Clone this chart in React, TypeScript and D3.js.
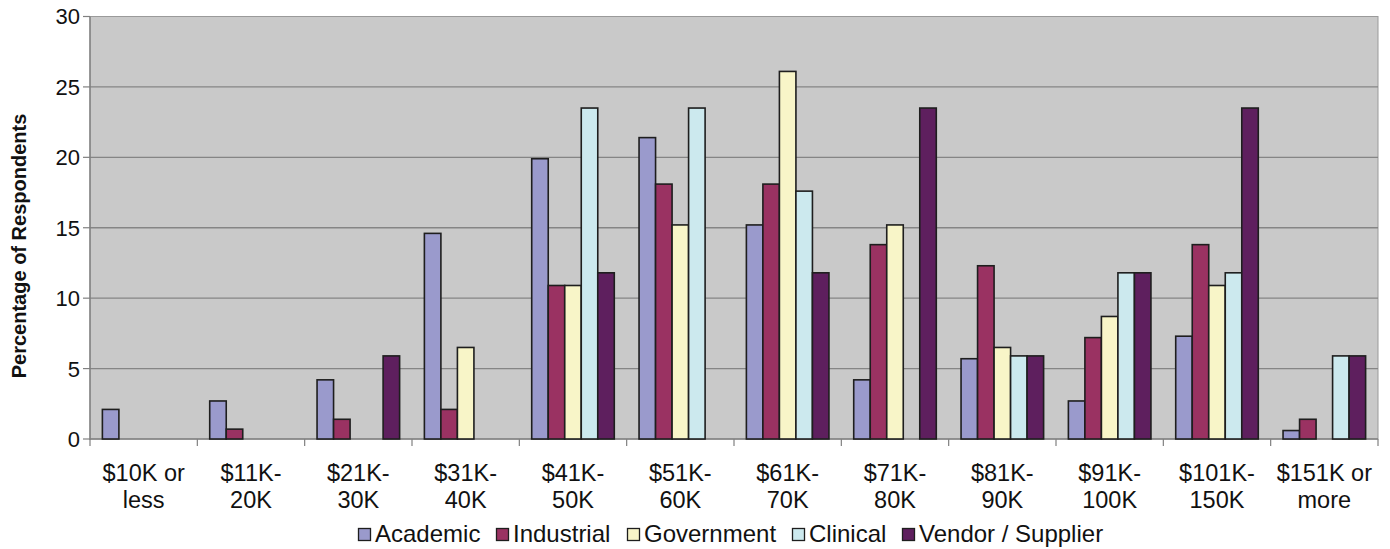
import * as d3 from "d3";

const categories = [
  ["$10K or", "less"],
  ["$11K-", "20K"],
  ["$21K-", "30K"],
  ["$31K-", "40K"],
  ["$41K-", "50K"],
  ["$51K-", "60K"],
  ["$61K-", "70K"],
  ["$71K-", "80K"],
  ["$81K-", "90K"],
  ["$91K-", "100K"],
  ["$101K-", "150K"],
  ["$151K or", "more"],
];

const seriesNames = ["Academic", "Industrial", "Government", "Clinical", "Vendor / Supplier"];

const academic = [2.1, 2.7, 4.2, 14.6, 19.9, 21.4, 15.2, 4.2, 5.7, 2.7, 7.3, 0.6];
const industrial = [0, 0.7, 1.4, 2.1, 10.9, 18.1, 18.1, 13.8, 12.3, 7.2, 13.8, 1.4];
const government = [0, 0, 0, 6.5, 10.9, 15.2, 26.1, 15.2, 6.5, 8.7, 10.9, 0];
const clinical = [0, 0, 0, 0, 23.5, 23.5, 17.6, 0, 5.9, 11.8, 11.8, 5.9];
const vendor = [0, 0, 5.9, 0, 11.8, 0, 11.8, 23.5, 5.9, 11.8, 23.5, 5.9];

const yTicks = [0, 5, 10, 15, 20, 25, 30];

const seriesValues = [academic, industrial, government, clinical, vendor];
const colors = ["#9a9acc", "#9a3262", "#f8f5c8", "#cce9ee", "#5e1f5e"];

const width = 1390;
const height = 549;
const plot = { left: 90, right: 1378, top: 16.5, bottom: 439 };
const font = "'Liberation Sans', Arial, sans-serif";

export default function App() {
  const catIdx = categories.map((_, i) => String(i));
  const x0 = d3.scaleBand().domain(catIdx).range([plot.left, plot.right]).padding(0);
  const x1 = d3
    .scaleBand()
    .domain(seriesNames)
    .range([0, x0.bandwidth()])
    .paddingInner(0)
    .paddingOuter(0.75);
  const y = d3.scaleLinear().domain([0, 30]).range([plot.bottom, plot.top]);

  const bars = seriesNames.flatMap((name, s) =>
    seriesValues[s].map((v, i) => ({ name, s, i, v })).filter((d) => d.v > 0),
  );

  // legend: square, then label; x positions follow the picture
  const legendX = [358, 496, 627, 792, 902];

  return (
    <svg
      width={width}
      height={height}
      style={{ position: "absolute", left: 0, top: 0, background: "#fff" }}
      fontFamily={font}
    >
      <rect
        x={plot.left}
        y={plot.top}
        width={plot.right - plot.left}
        height={plot.bottom - plot.top}
        fill="#c9c9c9"
        stroke="#9a9a9a"
        strokeWidth={1}
      />
      {yTicks.map((t) => (
        <g key={t}>
          {t > 0 && t < 30 && (
            <line x1={plot.left} x2={plot.right} y1={y(t)} y2={y(t)} stroke="#858585" strokeWidth={1.3} />
          )}
          <line x1={plot.left - 7} x2={plot.left} y1={y(t)} y2={y(t)} stroke="#808080" strokeWidth={1.2} />
          <text x={plot.left - 10} y={y(t)} dy="0.36em" textAnchor="end" fontSize={22} fill="#111">
            {t}
          </text>
        </g>
      ))}
      <line x1={plot.left} x2={plot.left} y1={plot.top} y2={plot.bottom + 1} stroke="#808080" strokeWidth={1.4} />
      <line x1={plot.left} x2={plot.right} y1={plot.bottom} y2={plot.bottom} stroke="#808080" strokeWidth={1.4} />
      {catIdx.concat([String(categories.length)]).map((c, i) => {
        const xx = plot.left + i * x0.step();
        return <line key={c} x1={xx} x2={xx} y1={plot.bottom} y2={plot.bottom + 7} stroke="#808080" strokeWidth={1.2} />;
      })}
      {bars.map((d) => (
        <rect
          key={`${d.s}-${d.i}`}
          x={(x0(String(d.i)) ?? 0) + (x1(d.name) ?? 0)}
          y={y(d.v)}
          width={x1.bandwidth()}
          height={y(0) - y(d.v)}
          fill={colors[d.s]}
          stroke="#1e1e1e"
          strokeWidth={1.6}
        />
      ))}
      {categories.map((lines, i) => {
        const cx = (x0(String(i)) ?? 0) + x0.bandwidth() / 2;
        return (
          <text key={i} x={cx} textAnchor="middle" fontSize={23.5} fill="#111">
            <tspan x={cx} y={481}>{lines[0]}</tspan>
            <tspan x={cx} y={508}>{lines[1]}</tspan>
          </text>
        );
      })}
      <text
        transform={`translate(26,246) rotate(-90)`}
        textAnchor="middle"
        fontSize={20}
        fontWeight="bold"
        fill="#111"
      >
        Percentage of Respondents
      </text>
      {seriesNames.map((name, s) => (
        <g key={name} transform={`translate(${legendX[s]},528)`}>
          <rect x={0.5} y={0.5} width={12} height={12} fill={colors[s]} stroke="#1e1e1e" strokeWidth={1.3} />
          <text x={17} y={14} fontSize={24} fill="#111">
            {name}
          </text>
        </g>
      ))}
    </svg>
  );
}
